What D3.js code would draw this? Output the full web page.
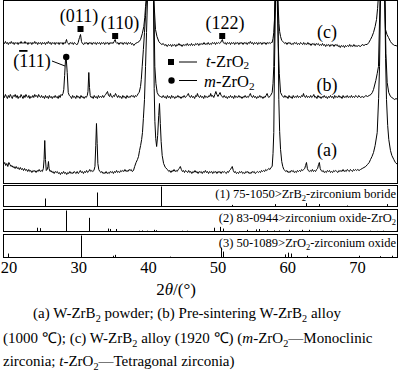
<!DOCTYPE html>
<html><head><meta charset="utf-8">
<script src="https://cdn.jsdelivr.net/npm/d3@7"></script>
<style>body{margin:0;background:#fff}svg{display:block}text{font-family:'Liberation Serif','Times New Roman',serif;fill:#000}</style>
</head><body><svg id="c" width="400" height="382"></svg>
<script>
// ---- data: 2θ (deg), intensity (a.u., stacked) ----
const traceA = [
[19.28,19],[19.45,21],[19.6,18],[19.75,20],[19.9,17],[20.05,21],[20.2,19],[20.35,17],[20.5,18],[20.65,16],[20.8,17],[20.95,15],[21.1,17],[21.25,15],[21.4,16],[21.55,14],[21.7,16],[21.85,14],[22.0,15],[22.15,13],[22.3,15],[22.45,13],[22.6,14],[22.75,12],[22.9,14],[23.05,12],[23.2,13],[23.35,11],[23.5,13],[23.65,12],[23.8,13],[23.95,11],[24.1,13],[24.25,12],[24.4,14],[24.55,12],[24.7,13],[24.85,12],[25.0,15],[25.1,24],[25.2,43],[25.3,24],[25.42,13],[25.55,14],[25.65,17],[25.73,22],[25.82,15],[25.95,12],[26.1,13],[26.25,11],[26.4,12],[26.55,10],[26.7,12],[26.85,11],[27.0,12],[27.15,10],[27.3,11],[27.45,9],[27.6,11],[27.75,10],[27.9,12],[28.05,10],[28.2,11],[28.35,9],[28.5,11],[28.65,10],[28.8,12],[28.95,10],[29.1,11],[29.25,10],[29.4,12],[29.55,11],[29.7,10],[29.85,12],[30.0,10],[30.15,11],[30.3,13],[30.45,11],[30.6,12],[30.75,10],[30.9,12],[31.05,11],[31.2,13],[31.35,11],[31.5,12],[31.65,14],[31.8,12],[31.95,13],[32.1,12],[32.25,13],[32.4,17],[32.52,38],[32.62,60],[32.72,40],[32.82,20],[32.95,14],[33.1,12],[33.25,11],[33.4,12],[33.55,10],[33.7,11],[33.85,10],[34.0,12],[34.15,10],[34.3,11],[34.45,10],[34.6,12],[34.75,11],[34.9,12],[35.05,10],[35.2,12],[35.35,11],[35.5,13],[35.65,11],[35.8,12],[35.95,11],[36.1,13],[36.25,12],[36.4,13],[36.55,12],[36.7,14],[36.85,12],[37.0,13],[37.15,12],[37.3,14],[37.45,13],[37.6,14],[37.75,12],[37.93,13],[38.1,17],[38.3,21],[38.5,24],[38.65,27],[38.8,33],[38.95,38],[39.1,44],[39.22,51],[39.35,65],[39.51,84],[39.66,117],[39.8,151],[39.94,184],[40.1,300],[40.37,420],[40.65,300],[40.8,184],[40.9,95],[41.0,62],[41.12,45],[41.25,37],[41.4,48],[41.55,68],[41.66,80],[41.78,60],[41.9,42],[42.05,28],[42.25,20],[42.5,16],[42.8,14],[43.0,12],[43.15,13],[43.3,11],[43.45,13],[43.6,12],[43.75,14],[43.9,12],[44.05,13],[44.2,12],[44.35,14],[44.5,15],[44.65,17],[44.8,14],[44.95,12],[45.1,13],[45.25,11],[45.4,13],[45.55,12],[45.7,11],[45.85,13],[46.0,11],[46.15,12],[46.3,10],[46.45,12],[46.6,11],[46.75,13],[46.9,11],[47.05,12],[47.2,10],[47.35,12],[47.5,11],[47.65,12],[47.8,10],[47.95,12],[48.1,11],[48.25,13],[48.4,11],[48.55,12],[48.7,10],[48.85,12],[49.0,11],[49.15,12],[49.3,10],[49.45,12],[49.6,11],[49.75,12],[49.9,10],[50.05,12],[50.2,11],[50.35,12],[50.5,10],[50.65,12],[50.8,11],[50.95,12],[51.1,11],[51.25,10],[51.4,12],[51.55,11],[51.7,13],[51.85,14],[52.0,16],[52.1,17],[52.25,13],[52.4,11],[52.55,12],[52.7,10],[52.85,11],[53.0,10],[53.15,12],[53.3,11],[53.45,12],[53.6,10],[53.75,11],[53.9,10],[54.05,12],[54.2,11],[54.35,12],[54.5,10],[54.65,11],[54.8,10],[54.95,12],[55.1,11],[55.25,12],[55.4,10],[55.55,11],[55.7,12],[55.85,11],[56.0,12],[56.15,11],[56.3,13],[56.45,12],[56.6,13],[56.75,12],[56.9,14],[57.05,13],[57.2,14],[57.35,15],[57.5,14],[57.65,16],[57.83,17],[57.95,30],[58.06,51],[58.16,117],[58.31,184],[58.47,420],[58.64,184],[58.78,84],[58.9,52],[59.03,34],[59.2,22],[59.35,17],[59.5,14],[59.65,13],[59.8,12],[59.95,13],[60.1,11],[60.25,12],[60.4,11],[60.55,13],[60.7,12],[60.85,13],[61.0,11],[61.15,12],[61.3,11],[61.45,13],[61.6,12],[61.75,13],[61.9,12],[62.05,14],[62.2,13],[62.35,14],[62.5,15],[62.62,18],[62.75,21],[62.88,15],[63.0,13],[63.15,12],[63.3,13],[63.45,12],[63.6,14],[63.75,12],[63.9,13],[64.05,12],[64.2,14],[64.35,15],[64.48,19],[64.6,21],[64.72,15],[64.85,13],[65.0,12],[65.15,13],[65.3,11],[65.45,12],[65.6,11],[65.75,13],[65.9,12],[66.05,13],[66.2,11],[66.35,12],[66.5,11],[66.65,13],[66.8,12],[66.95,13],[67.1,12],[67.25,11],[67.4,13],[67.55,12],[67.7,13],[67.85,12],[68.0,14],[68.15,12],[68.3,13],[68.45,12],[68.6,14],[68.75,13],[68.9,12],[69.05,14],[69.2,13],[69.35,12],[69.5,14],[69.65,13],[69.8,14],[69.95,13],[70.1,14],[70.3,13],[70.5,14],[70.75,15],[71.0,16],[71.25,17],[71.5,19],[71.75,21],[71.94,24],[72.15,27],[72.37,31],[72.6,38],[72.9,51],[73.1,85],[73.23,117],[73.37,184],[73.7,420],[73.99,184],[74.1,125],[74.23,84],[74.4,58],[74.56,44],[74.8,33],[75.0,28],[75.28,24],[75.5,21],[75.81,19]
];
const traceB = [
[19.28,88],[19.42,86],[19.56,89],[19.7,87],[19.84,85],[19.98,88],[20.12,86],[20.26,89],[20.4,87],[20.54,85],[20.68,88],[20.82,87],[20.96,89],[21.1,86],[21.24,88],[21.38,85],[21.52,87],[21.66,86],[21.8,89],[21.94,87],[22.08,85],[22.22,88],[22.36,86],[22.5,89],[22.64,87],[22.78,86],[22.92,88],[23.06,85],[23.2,87],[23.34,86],[23.48,88],[23.62,86],[23.76,89],[23.9,87],[24.04,88],[24.18,86],[24.32,89],[24.46,87],[24.6,86],[24.74,88],[24.88,86],[25.02,87],[25.16,85],[25.3,88],[25.44,86],[25.58,87],[25.72,85],[25.86,88],[26.0,86],[26.14,87],[26.28,85],[26.42,87],[26.56,86],[26.7,88],[26.84,86],[26.98,87],[27.12,85],[27.26,88],[27.4,86],[27.54,89],[27.68,88],[27.82,90],[27.93,94],[28.05,108],[28.18,124],[28.28,125],[28.42,111],[28.57,91],[28.72,88],[28.9,87],[29.05,85],[29.2,88],[29.35,86],[29.5,87],[29.65,85],[29.8,88],[29.95,86],[30.1,87],[30.25,85],[30.4,88],[30.55,86],[30.7,87],[30.85,85],[31.0,87],[31.15,86],[31.3,88],[31.4,92],[31.52,111],[31.62,96],[31.72,88],[31.85,86],[32.0,87],[32.15,85],[32.3,88],[32.45,86],[32.6,87],[32.75,85],[32.9,88],[33.05,86],[33.2,87],[33.35,86],[33.5,88],[33.65,86],[33.8,88],[33.95,89],[34.1,91],[34.2,92],[34.35,88],[34.5,87],[34.62,90],[34.75,87],[34.9,86],[35.05,88],[35.2,87],[35.35,90],[35.5,88],[35.65,86],[35.8,88],[35.95,86],[36.1,87],[36.25,85],[36.4,88],[36.55,86],[36.7,87],[36.85,85],[37.0,88],[37.15,86],[37.3,87],[37.45,86],[37.6,88],[37.75,87],[37.9,88],[38.05,86],[38.2,88],[38.35,87],[38.46,88],[38.6,90],[38.75,91],[38.94,97],[39.05,104],[39.18,117],[39.35,134],[39.51,151],[39.66,168],[39.8,184],[40.05,300],[40.35,420],[40.7,300],[40.85,184],[40.99,117],[41.15,100],[41.33,91],[41.55,88],[41.8,87],[42.05,86],[42.2,88],[42.35,86],[42.5,87],[42.65,85],[42.8,88],[42.95,86],[43.1,87],[43.25,85],[43.4,88],[43.55,86],[43.7,87],[43.85,85],[44.0,87],[44.15,86],[44.3,88],[44.45,86],[44.6,87],[44.75,85],[44.9,87],[45.05,86],[45.2,88],[45.35,86],[45.5,87],[45.65,88],[45.8,90],[45.95,87],[46.1,86],[46.25,88],[46.4,86],[46.55,87],[46.7,85],[46.85,88],[47.0,87],[47.1,90],[47.25,87],[47.4,86],[47.55,88],[47.7,86],[47.85,87],[48.0,85],[48.15,88],[48.3,86],[48.45,87],[48.6,86],[48.75,88],[48.9,87],[49.0,90],[49.15,87],[49.3,88],[49.45,86],[49.6,89],[49.75,92],[49.9,89],[50.05,87],[50.2,89],[50.35,91],[50.5,88],[50.65,87],[50.8,86],[50.95,88],[51.1,86],[51.25,87],[51.4,85],[51.55,87],[51.7,86],[51.85,88],[52.0,86],[52.15,87],[52.3,85],[52.45,88],[52.6,86],[52.75,87],[52.9,86],[53.05,88],[53.2,86],[53.35,87],[53.5,85],[53.65,87],[53.8,86],[53.95,88],[54.1,86],[54.25,87],[54.4,86],[54.55,88],[54.7,90],[54.85,87],[55.0,86],[55.15,88],[55.3,86],[55.45,87],[55.6,85],[55.75,87],[55.9,86],[56.05,88],[56.2,86],[56.35,87],[56.5,85],[56.65,87],[56.8,86],[56.95,88],[57.1,90],[57.25,87],[57.35,86],[57.6,88],[57.83,91],[57.95,100],[58.06,117],[58.2,184],[58.38,420],[58.55,184],[58.7,140],[58.85,110],[59.03,91],[59.25,88],[59.5,86],[59.65,88],[59.8,86],[59.95,87],[60.1,85],[60.25,88],[60.4,86],[60.55,87],[60.7,85],[60.85,88],[61.0,86],[61.15,87],[61.3,86],[61.45,88],[61.6,86],[61.75,87],[61.9,86],[62.05,88],[62.2,87],[62.32,90],[62.45,87],[62.6,86],[62.75,88],[62.9,86],[63.05,87],[63.2,86],[63.35,88],[63.5,86],[63.65,87],[63.8,89],[63.95,86],[64.1,87],[64.25,85],[64.4,88],[64.55,86],[64.7,87],[64.85,85],[65.0,87],[65.15,86],[65.3,88],[65.45,86],[65.6,87],[65.75,85],[65.9,87],[66.05,86],[66.2,88],[66.35,86],[66.5,87],[66.65,85],[66.8,88],[66.95,86],[67.1,87],[67.25,86],[67.4,88],[67.55,86],[67.7,87],[67.85,85],[68.0,88],[68.15,86],[68.3,87],[68.45,86],[68.6,88],[68.75,86],[68.9,87],[69.05,86],[69.2,88],[69.35,86],[69.5,87],[69.65,86],[69.8,88],[69.95,87],[70.1,86],[70.25,88],[70.5,86],[70.75,87],[71.0,86],[71.25,88],[71.5,87],[71.75,88],[72.0,89],[72.2,91],[72.37,94],[72.7,103],[72.9,110],[73.08,117],[73.3,184],[73.6,420],[74.0,184],[74.15,130],[74.33,101],[74.55,91],[74.81,87],[75.0,86],[75.2,85],[75.4,84],[75.6,85],[75.81,84]
];
const traceC = [
[19.28,141],[19.42,140],[19.56,142],[19.7,140],[19.84,141],[19.98,139],[20.12,141],[20.26,140],[20.4,142],[20.54,140],[20.68,141],[20.82,139],[20.96,141],[21.1,140],[21.24,141],[21.38,139],[21.52,141],[21.66,140],[21.8,142],[21.94,140],[22.08,141],[22.22,140],[22.36,142],[22.5,140],[22.64,141],[22.78,139],[22.92,141],[23.06,140],[23.2,141],[23.34,139],[23.48,141],[23.62,140],[23.76,142],[23.9,140],[24.04,141],[24.18,139],[24.32,141],[24.46,140],[24.6,141],[24.74,139],[24.88,141],[25.02,140],[25.16,141],[25.3,139],[25.44,141],[25.58,140],[25.72,142],[25.86,140],[26.0,141],[26.14,139],[26.28,141],[26.42,140],[26.56,141],[26.7,139],[26.84,141],[26.98,140],[27.12,141],[27.26,139],[27.4,141],[27.54,140],[27.68,141],[27.82,139],[27.96,141],[28.1,140],[28.22,142],[28.32,144],[28.42,141],[28.55,140],[28.7,139],[28.85,141],[29.0,140],[29.15,141],[29.3,139],[29.45,141],[29.6,140],[29.75,139],[29.86,139],[30.0,141],[30.1,144],[30.19,146],[30.33,149],[30.47,142],[30.6,140],[30.8,139],[30.95,141],[31.1,140],[31.25,141],[31.4,139],[31.55,141],[31.7,140],[31.85,141],[32.0,139],[32.15,141],[32.3,140],[32.45,141],[32.6,139],[32.75,141],[32.9,140],[33.05,141],[33.2,139],[33.35,141],[33.5,140],[33.65,141],[33.8,139],[33.95,141],[34.1,140],[34.25,141],[34.4,139],[34.55,141],[34.7,140],[34.85,141],[35.0,140],[35.15,142],[35.3,144],[35.42,141],[35.55,140],[35.7,141],[35.85,139],[36.0,141],[36.15,140],[36.3,141],[36.45,139],[36.6,141],[36.75,140],[36.9,141],[37.05,139],[37.2,141],[37.35,140],[37.5,141],[37.65,139],[37.8,140],[37.98,138],[38.2,140],[38.5,141],[38.75,142],[38.94,144],[39.2,150],[39.41,157],[39.55,166],[39.66,177],[39.75,184],[40.1,300],[40.4,420],[40.75,300],[40.85,184],[41.09,154],[41.3,147],[41.56,142],[41.8,140],[42.0,139],[42.2,140],[42.4,138],[42.6,139],[42.77,137],[42.95,139],[43.1,138],[43.25,139],[43.4,137],[43.55,139],[43.7,138],[43.85,139],[44.0,137],[44.15,139],[44.3,138],[44.45,140],[44.6,138],[44.75,139],[44.9,137],[45.05,139],[45.2,138],[45.35,139],[45.5,138],[45.65,140],[45.8,138],[45.95,139],[46.1,138],[46.25,140],[46.4,138],[46.55,139],[46.7,138],[46.85,140],[47.0,139],[47.15,140],[47.3,138],[47.45,140],[47.6,139],[47.75,140],[47.9,139],[48.05,141],[48.2,139],[48.35,140],[48.5,139],[48.65,141],[48.8,139],[48.95,140],[49.1,139],[49.25,141],[49.4,140],[49.55,141],[49.7,139],[49.85,141],[50.0,140],[50.15,141],[50.3,140],[50.45,141],[50.58,143],[50.68,144],[50.8,141],[50.95,140],[51.1,141],[51.25,139],[51.4,141],[51.55,140],[51.7,141],[51.85,139],[52.0,141],[52.15,140],[52.3,141],[52.45,139],[52.6,141],[52.75,140],[52.9,141],[53.05,139],[53.2,141],[53.35,140],[53.5,141],[53.65,139],[53.8,141],[53.95,140],[54.1,141],[54.25,139],[54.4,141],[54.55,140],[54.7,142],[54.85,140],[55.0,141],[55.15,139],[55.3,141],[55.45,140],[55.6,141],[55.75,139],[55.9,141],[56.05,140],[56.2,141],[56.35,139],[56.5,141],[56.65,140],[56.8,141],[56.95,139],[57.1,141],[57.25,140],[57.4,141],[57.55,140],[57.7,141],[57.83,141],[57.95,145],[58.06,151],[58.18,165],[58.31,184],[58.47,420],[58.64,184],[58.8,160],[58.9,152],[59.03,147],[59.2,143],[59.35,142],[59.5,141],[59.65,140],[59.8,141],[59.95,139],[60.1,141],[60.25,140],[60.4,141],[60.55,139],[60.7,140],[60.85,139],[61.0,141],[61.15,140],[61.3,141],[61.45,139],[61.6,140],[61.75,139],[61.9,141],[62.05,140],[62.2,139],[62.35,141],[62.5,139],[62.65,140],[62.8,139],[62.95,141],[63.1,139],[63.25,140],[63.4,138],[63.55,140],[63.7,139],[63.85,140],[64.0,138],[64.15,140],[64.3,139],[64.45,140],[64.6,138],[64.75,139],[64.9,138],[65.05,140],[65.2,138],[65.35,139],[65.5,137],[65.65,139],[65.8,138],[65.95,139],[66.1,137],[66.25,139],[66.4,138],[66.55,139],[66.7,137],[66.85,139],[67.0,138],[67.15,139],[67.3,137],[67.45,138],[67.6,136],[67.75,138],[67.9,137],[68.05,138],[68.2,136],[68.35,138],[68.5,137],[68.65,138],[68.8,137],[68.95,139],[69.1,137],[69.25,138],[69.4,137],[69.55,139],[69.7,137],[69.85,138],[70.0,137],[70.2,138],[70.5,137],[70.75,139],[71.0,138],[71.2,139],[71.46,139],[71.7,141],[71.94,144],[72.15,147],[72.37,151],[72.6,157],[72.8,164],[72.95,175],[73.04,184],[73.5,420],[73.99,184],[74.09,154],[74.3,149],[74.52,146],[74.8,142],[75.0,140],[75.2,139],[75.4,138],[75.6,138],[75.81,137]
];
// reference patterns: [2θ, relative intensity %]
const refZrB2 = [[25.21,40],[32.67,70],[41.81,100],[52.0,8],[58.3,12],[62.7,17],[64.5,12],[68.6,5],[74.33,12]];
const refMZrO2 = [[24.11,18],[24.5,16],[28.27,100],[31.52,65],[34.3,14],[34.63,12],[35.45,12],[38.7,4],[39.18,5],[39.9,4],[40.85,8],[41.23,6],[44.92,4],[45.64,4],[49.46,18],[50.32,22],[50.8,14],[54.24,8],[55.44,10],[55.92,12],[57.11,6],[58.07,5],[58.79,5],[60.22,8],[62.14,8],[63.09,8],[65.0,4],[66.2,4],[70.0,3],[71.9,4],[72.9,3],[73.8,4],[75.6,3]];
const refTZrO2 = [[19.9,18],[30.33,100],[35.02,8],[35.25,12],[43.24,4],[50.42,45],[50.8,27],[59.74,14],[60.07,22],[60.46,18],[62.85,8],[70.27,8],[73.37,6],[75.05,8]];
const xTicks = [20,30,40,50,60,70];
const traceLabels = ["(a)","(b)","(c)"];

// ---- drawing ----
const svg = d3.select('#c');
const L = 3.5, R = 397.5;
const x = d3.scaleLinear().domain([19.28,75.81]).range([L,R]);
const y = d3.scaleLinear().domain([0,183]).range([183.5,0.5]);
const FF = "'Liberation Serif','Times New Roman',serif";

function rich(sel, parts, fs, subShift){
  let shift = 0;
  const ss = subShift == null ? 0.28 : subShift;
  parts.forEach(p=>{
    if(typeof p === 'string') p = {t:p};
    const ts = sel.append('tspan').text(p.t);
    const target = p.sub ? fs*ss : 0;
    if(target !== shift){ ts.attr('dy', target - shift); shift = target; }
    if(p.sub) ts.attr('font-size', fs*0.68);
    if(p.it) ts.attr('font-style','italic');
    if(p.ol) ts.style('text-decoration','overline');
  });
  return sel;
}
function txt(xp, yp, fs, anchor){
  return svg.append('text').attr('x',xp).attr('y',yp).attr('font-size',fs).attr('text-anchor',anchor||'start');
}

svg.append('clipPath').attr('id','clip').append('rect').attr('x',L).attr('y',0.5).attr('width',R-L).attr('height',183);
const line = d3.line().x(d=>x(d[0])).y(d=>y(d[1]));
const g = svg.append('g').attr('clip-path','url(#clip)');
[traceA,traceB,traceC].forEach(t=>{
  g.append('path').attr('d',line(t)).attr('fill','none').attr('stroke','#000').attr('stroke-width',1).attr('stroke-linejoin','round');
});
svg.append('rect').attr('x',L).attr('y',0.5).attr('width',R-L).attr('height',183).attr('fill','none').attr('stroke','#000');

// reference panels
const panels = [
  {top:185.5,bottom:206.5,data:refZrB2,label:[ "(1) 75-1050>ZrB",{t:"2",sub:true},"-zirconium boride"]},
  {top:209.5,bottom:231.5,data:refMZrO2,label:["(2) 83-0944>zirconium oxide-ZrO",{t:"2",sub:true}]},
  {top:234.5,bottom:257.5,data:refTZrO2,label:["(3) 50-1089>ZrO",{t:"2",sub:true},"-zirconium oxide"]}
];
panels.forEach(p=>{
  const h = d3.scaleLinear().domain([0,100]).range([p.bottom, p.top+1]);
  svg.append('rect').attr('x',L).attr('y',p.top).attr('width',R-L).attr('height',p.bottom-p.top).attr('fill','none').attr('stroke','#000');
  svg.append('g').selectAll('line').data(p.data).join('line')
    .attr('x1',d=>Math.round(x(d[0]))+0.5).attr('x2',d=>Math.round(x(d[0]))+0.5)
    .attr('y1',p.bottom).attr('y2',d=>h(d[1])).attr('stroke','#000').attr('stroke-width',1);
  rich(txt(396, p.top+12, 12.5, 'end'), p.label, 12.5);
});

// x axis
const ax = svg.append('g').attr('transform','translate(0,257.5)')
  .call(d3.axisBottom(x).tickValues(xTicks).tickSize(0).tickPadding(4).tickFormat(d3.format('d')));
ax.select('.domain').remove();
ax.selectAll('text').attr('font-family',FF).style('font-family',FF).attr('font-size',16.5).attr('fill','#000');
rich(txt(176, 295, 17, 'middle'), ["2",{t:"θ",it:true},"/(°)"], 17);

// annotations
const fsA = 18;
rich(txt(79, 22, fsA, 'middle'), ["(011)"], fsA);
rich(txt(120, 29, fsA, 'middle'), ["(110)"], fsA);
rich(txt(225, 29, fsA, 'middle'), ["(122)"], fsA);
rich(txt(32, 67, fsA, 'middle'), ["(",{t:"1",ol:true},"11)"], fsA);
svg.append('line').attr('x1',52).attr('y1',61).attr('x2',65).attr('y2',66).attr('stroke','#000');
const sq = 6;
[[30.33,29],[35.3,36],[50.66,36]].forEach(([t,yy])=>{
  svg.append('rect').attr('x',x(t)-sq/2).attr('y',yy-sq/2).attr('width',sq).attr('height',sq).attr('fill','#000');
});
svg.append('circle').attr('cx',x(28.28)).attr('cy',57).attr('r',3.2).attr('fill','#000');

// legend
svg.append('rect').attr('x',171-sq/2).attr('y',62-sq/2).attr('width',sq).attr('height',sq).attr('fill','#000');
svg.append('line').attr('x1',179).attr('x2',197).attr('y1',62).attr('y2',62).attr('stroke','#000');
svg.append('circle').attr('cx',171.5).attr('cy',80.5).attr('r',3.2).attr('fill','#000');
svg.append('line').attr('x1',179).attr('x2',197).attr('y1',80.5).attr('y2',80.5).attr('stroke','#000');
rich(txt(206, 66.5, 16.5), [{t:"t",it:true},"-ZrO",{t:"2",sub:true}], 16.5, 0.18);
rich(txt(204, 87, 16.5), [{t:"m",it:true},"-ZrO",{t:"2",sub:true}], 16.5, 0.18);

// trace labels
[[156,0],[91,1],[38,2]].forEach(([yy,i])=> txt(327, yy, 18, 'middle').text(traceLabels[i]));

// caption
const fsC = 15;
rich(txt(33, 318, fsC), ["(a) W-ZrB",{t:"2",sub:true}," powder; (b) Pre-sintering W-ZrB",{t:"2",sub:true}," alloy"], fsC);
rich(txt(3, 343, fsC), ["(1000 \u2103); (c) W-ZrB",{t:"2",sub:true}," alloy (1920 \u2103) (",{t:"m",it:true},"-ZrO",{t:"2",sub:true},"\u2014Monoclinic"], fsC);
rich(txt(3, 366, fsC), ["zirconia; ",{t:"t",it:true},"-ZrO",{t:"2",sub:true},"\u2014Tetragonal zirconia)"], fsC);
</script></body></html>
